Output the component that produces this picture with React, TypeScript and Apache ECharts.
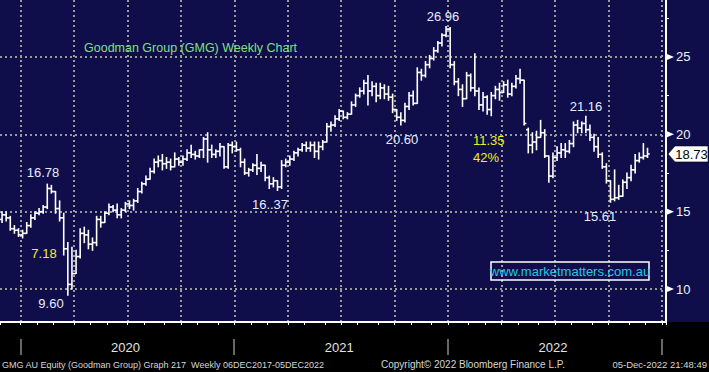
import React, { useEffect, useRef } from 'react';
import * as echarts from 'echarts';

// Weekly OHLC for Goodman Group (GMG), first week 2019-12-02, last week 2022-12-05
const START_DATE = '2019-12-02';
const FUTURE_WEEKS = 4;

const opens = [
  14.5, 14.8, 14.6, 13.9, 13.8, 13.5, 13.6, 14.1, 14.6, 14.9,
  15.0, 15.3, 16.5, 16.3, 15.2, 14.6, 12.6, 10.3, 11.0, 12.1,
  13.6, 13.5, 12.9, 13.0, 14.5, 14.3, 14.9, 15.3, 15.1, 14.8,
  15.1, 15.5, 15.4, 15.7, 16.3, 16.8, 17.1, 17.6, 18.2, 18.3,
  18.1, 18.2, 17.9, 18.4, 18.2, 18.4, 18.8, 18.7, 18.6, 19.0,
  19.7, 19.0, 18.7, 18.9, 19.2, 17.9, 19.3, 19.2, 19.0, 18.2,
  17.5, 17.7, 18.0, 17.8, 18.0, 17.2, 16.8, 17.0, 16.6, 18.0,
  18.2, 18.4, 18.8, 19.0, 19.3, 19.1, 19.3, 18.9, 19.2, 19.5,
  20.5, 20.6, 21.0, 21.5, 21.1, 21.3, 21.9, 22.5, 22.8, 23.3,
  22.8, 23.1, 22.5, 23.0, 22.6, 22.4, 21.6, 21.1, 20.9, 21.8,
  22.5, 22.0, 24.0, 23.8, 24.5, 24.9, 25.4, 25.9, 26.4, 26.8,
  24.5, 23.4, 22.9, 22.3, 23.8, 23.0, 22.8, 21.9, 22.4, 21.6,
  22.5, 22.9, 22.7, 23.2, 22.6, 23.1, 23.6, 23.5, 20.3, 19.3,
  19.5, 19.8, 20.1, 18.6, 17.3, 18.5, 18.8, 19.0, 18.9, 19.4,
  20.6, 20.4, 20.7, 20.3, 19.8, 19.2, 18.7, 17.9, 17.0, 15.8,
  15.9, 16.0, 16.9, 17.2, 17.7, 18.3, 18.5, 18.6,
];
const highs = [
  15.0, 15.0, 14.7, 14.1, 13.9, 13.8, 14.3, 14.8, 15.0, 15.2,
  15.4, 16.78, 16.7, 16.3, 15.7, 14.9, 13.0, 12.7, 12.5, 13.9,
  14.0, 13.8, 13.3, 14.7, 14.7, 15.0, 15.5, 15.4, 15.5, 15.2,
  15.6, 15.7, 15.8, 16.5, 16.9, 17.3, 17.8, 18.4, 18.6, 18.7,
  18.5, 18.4, 18.8, 18.5, 18.6, 19.0, 19.3, 18.9, 19.0, 19.8,
  20.1, 19.3, 19.0, 19.4, 19.2, 19.4, 19.5, 19.5, 19.1, 18.4,
  17.8, 18.1, 18.7, 18.2, 18.0, 17.3, 17.2, 17.0, 18.3, 18.4,
  18.6, 18.9, 19.1, 19.4, 19.5, 19.5, 19.5, 19.5, 19.6, 20.7,
  20.8, 21.2, 21.6, 21.5, 21.4, 22.1, 22.6, 23.0, 23.5, 23.8,
  23.4, 23.3, 23.3, 23.2, 23.1, 22.6, 21.6, 21.4, 22.0, 22.7,
  22.8, 24.3, 24.2, 24.7, 25.1, 25.6, 26.0, 26.5, 26.96, 26.9,
  24.7, 23.6, 23.2, 24.0, 23.9, 25.2, 23.0, 22.7, 22.5, 22.7,
  23.1, 23.3, 23.4, 23.5, 23.3, 23.8, 24.2, 23.5, 20.4, 20.1,
  20.2, 20.9, 20.3, 18.6, 18.8, 19.2, 19.4, 19.4, 19.6, 20.8,
  20.9, 20.8, 21.16, 20.6, 20.0, 19.8, 18.8, 18.1, 17.0, 17.7,
  16.7, 17.05, 17.5, 18.0, 18.7, 18.8, 19.4, 19.1,
];
const lows = [
  14.3, 14.4, 13.8, 13.6, 13.4, 13.3, 13.6, 14.0, 14.5, 14.8,
  14.9, 15.2, 16.2, 14.9, 14.4, 12.2, 9.6, 10.0, 11.0, 12.0,
  13.0, 12.6, 12.5, 12.8, 14.0, 14.3, 14.8, 15.0, 14.6, 14.6,
  15.0, 15.2, 15.1, 15.6, 16.2, 16.7, 17.1, 17.5, 17.9, 17.7,
  17.8, 17.7, 17.9, 18.0, 18.0, 18.3, 18.5, 18.4, 18.5, 18.5,
  18.2, 18.5, 18.5, 18.6, 17.8, 17.8, 18.8, 18.9, 17.9, 17.4,
  17.3, 17.6, 17.4, 17.6, 17.0, 16.5, 16.6, 16.37, 16.5, 17.9,
  18.0, 18.3, 18.6, 18.9, 18.9, 18.9, 18.5, 18.4, 19.0, 19.5,
  20.2, 20.5, 20.9, 21.0, 21.0, 21.3, 21.8, 22.4, 22.6, 21.9,
  22.5, 22.1, 22.3, 22.3, 22.2, 21.4, 20.9, 20.6, 20.8, 21.6,
  21.9, 22.0, 23.5, 23.7, 24.3, 24.8, 25.3, 25.7, 26.3, 24.3,
  23.2, 22.5, 21.8, 22.3, 22.8, 22.5, 21.6, 21.5, 21.3, 21.2,
  22.3, 22.2, 22.7, 22.4, 22.5, 23.0, 23.3, 20.6, 18.8, 18.8,
  19.0, 19.8, 18.5, 16.9, 17.2, 18.3, 18.5, 18.5, 18.8, 19.2,
  20.1, 20.1, 20.1, 19.6, 18.9, 18.5, 17.8, 16.85, 15.61, 15.7,
  15.8, 16.0, 16.5, 17.0, 17.5, 18.2, 18.4, 18.5,
];
const closes = [
  14.8, 14.6, 13.9, 13.8, 13.5, 13.6, 14.1, 14.6, 14.9, 15.0,
  15.3, 16.5, 16.3, 15.2, 14.6, 12.6, 10.3, 11.0, 12.1, 13.6,
  13.5, 12.9, 13.0, 14.5, 14.3, 14.9, 15.3, 15.1, 14.8, 15.1,
  15.5, 15.4, 15.7, 16.3, 16.8, 17.1, 17.6, 18.2, 18.3, 18.1,
  18.2, 17.9, 18.4, 18.2, 18.4, 18.8, 18.7, 18.6, 19.0, 19.7,
  19.0, 18.7, 18.9, 19.2, 17.9, 19.3, 19.2, 19.0, 18.2, 17.5,
  17.7, 18.0, 17.8, 18.0, 17.2, 16.8, 17.0, 16.6, 18.0, 18.2,
  18.4, 18.8, 19.0, 19.3, 19.1, 19.3, 18.9, 19.2, 19.5, 20.5,
  20.6, 21.0, 21.5, 21.1, 21.3, 21.9, 22.5, 22.8, 23.3, 22.8,
  23.1, 22.5, 23.0, 22.6, 22.4, 21.6, 21.1, 20.9, 21.8, 22.5,
  22.0, 24.0, 23.8, 24.5, 24.9, 25.4, 25.9, 26.4, 26.8, 24.5,
  23.4, 22.9, 22.3, 23.8, 23.0, 22.8, 21.9, 22.4, 21.6, 22.5,
  22.9, 22.7, 23.2, 22.6, 23.1, 23.6, 23.5, 20.7, 19.3, 19.5,
  19.8, 20.1, 18.6, 17.3, 18.5, 18.8, 19.0, 18.9, 19.4, 20.6,
  20.4, 20.7, 20.3, 19.8, 19.2, 18.7, 17.9, 17.0, 15.8, 15.9,
  16.0, 16.9, 17.2, 17.7, 18.3, 18.5, 18.6, 18.73,
];

const LAST_PRICE = 18.73;
const Y_MIN = 7.87;
const Y_MAX = 28.68;
const Y_LABEL_VALUES = [10, 15, 20, 25];
const Y_TICK_VALUES = [10, 12.5, 15, 17.5, 20, 22.5, 25, 27.5];

const NAVY = '#100e4a';
const LIGHT = '#e4ecff';
const YELLOW = '#eeee22';
const GRID_LINE = '#9a9a9a';
const FONT = '"Liberation Sans", Arial, sans-serif';

const annotations = [
  { text: '16.78', x: 43, y: 172, color: LIGHT, align: 'center' },
  { text: '7.18', x: 44, y: 253, color: YELLOW, align: 'center' },
  { text: '9.60', x: 51, y: 303, color: LIGHT, align: 'center' },
  { text: '16..37', x: 270, y: 204, color: LIGHT, align: 'center' },
  { text: '20.60', x: 402, y: 139, color: LIGHT, align: 'center' },
  { text: '26.96', x: 443, y: 16, color: LIGHT, align: 'center' },
  { text: '11.35', x: 473, y: 140, color: YELLOW, align: 'left' },
  { text: '42%', x: 473, y: 157, color: YELLOW, align: 'left' },
  { text: '21.16', x: 586, y: 106, color: LIGHT, align: 'center' },
  { text: '15.61', x: 600, y: 216, color: LIGHT, align: 'center' },
];

export default function App() {
  const ref = useRef<HTMLDivElement>(null);

  useEffect(() => {
    const el = ref.current;
    if (!el) return;
    const chart = echarts.init(el, undefined, { renderer: 'svg' });

    const DAY = 86400000;
    const [sy, sm, sd] = START_DATE.split('-').map(Number);
    const start = Date.UTC(sy, sm - 1, sd);
    const total = closes.length + FUTURE_WEEKS;
    const weeks: Date[] = [];
    for (let i = 0; i < total; i++) weeks.push(new Date(start + i * 7 * DAY));
    const cats = weeks.map((d) => d.toISOString().slice(0, 10));

    const isMonthStart = (i: number) => !!weeks[i] && weeks[i].getUTCDate() <= 7;
    const isQuarterStart = (i: number) => isMonthStart(i) && weeks[i].getUTCMonth() % 3 === 0;
    const isYearStart = (i: number) => isMonthStart(i) && weeks[i].getUTCMonth() === 0;
    const isMidYear = (i: number) => {
      const d = weeks[i];
      if (!d) return false;
      const jul1 = Date.UTC(d.getUTCFullYear(), 6, 1);
      return jul1 >= d.getTime() && jul1 < d.getTime() + 7 * DAY;
    };

    const ohlc = closes.map((c, i) => [i, opens[i], c, lows[i], highs[i]]);

    const dotted = { color: GRID_LINE, type: [2, 3] as any, width: 2 };

    chart.setOption({
      animation: false,
      backgroundColor: '#000',
      grid: {
        left: 0,
        right: 43,
        top: 0,
        bottom: 50,
        show: true,
        backgroundColor: NAVY,
        borderWidth: 0,
      },
      xAxis: [
        {
          type: 'category',
          data: cats,
          position: 'bottom',
          boundaryGap: true,
          axisLine: { show: true, lineStyle: { color: '#fff', width: 2 } },
          axisTick: {
            show: true,
            interval: (i: number) => isMonthStart(i),
            length: 3,
            lineStyle: { color: '#fff', width: 1 },
          },
          axisLabel: { show: false },
          splitLine: {
            show: true,
            interval: (i: number) => isQuarterStart(i),
            lineStyle: dotted,
          },
        },
        {
          type: 'category',
          data: cats,
          position: 'bottom',
          offset: 19,
          boundaryGap: true,
          axisLine: { show: false },
          axisTick: { show: false },
          axisLabel: {
            show: true,
            interval: (i: number) => isMidYear(i),
            formatter: (v: string) => v.slice(0, 4),
            color: '#e2e2e2',
            fontSize: 13,
            fontFamily: FONT,
            margin: 0,
            verticalAlign: 'top',
          },
          splitLine: { show: false },
        },
      ],
      yAxis: [
        {
          type: 'value',
          position: 'right',
          min: Y_MIN,
          max: Y_MAX,
          splitNumber: 4,
          axisLine: { show: true, lineStyle: { color: '#fff', width: 2 } },
          axisTick: { show: false },
          axisLabel: {
            show: true,
            customValues: Y_LABEL_VALUES,
            color: '#f2f2f2',
            fontSize: 13,
            fontFamily: FONT,
            margin: 10,
          },
          splitLine: { show: true, showMinLine: false, showMaxLine: false, lineStyle: dotted },
        },
        {
          type: 'value',
          position: 'right',
          min: Y_MIN,
          max: Y_MAX,
          axisLine: { show: false },
          axisTick: {
            show: true,
            customValues: Y_TICK_VALUES,
            length: 3,
            lineStyle: { color: '#fff', width: 1 },
          },
          axisLabel: { show: false },
          splitLine: { show: false },
        },
      ],
      series: [
        {
          type: 'custom',
          xAxisIndex: 0,
          yAxisIndex: 0,
          data: ohlc,
          encode: { x: 0, y: [1, 2, 3, 4] },
          renderItem: (_params: any, api: any) => {
            const idx = api.value(0);
            const pO = api.coord([idx, api.value(1)]);
            const x = pO[0];
            const yo = pO[1];
            const yc = api.coord([idx, api.value(2)])[1];
            const yl = api.coord([idx, api.value(3)])[1];
            const yh = api.coord([idx, api.value(4)])[1];
            const style = { stroke: '#ffffff', lineWidth: 1.6 };
            return {
              type: 'group',
              children: [
                { type: 'line', shape: { x1: x, y1: yh - 0.5, x2: x, y2: yl + 0.5 }, style },
                { type: 'line', shape: { x1: x - 2.2, y1: yo, x2: x, y2: yo }, style },
                { type: 'line', shape: { x1: x, y1: yc, x2: x + 2.2, y2: yc }, style },
              ],
            };
          },
        },
      ],
    });

    const toY = (v: number) => chart.convertToPixel({ yAxisIndex: 0 }, v) as number;
    const toX = (i: number) => chart.convertToPixel({ xAxisIndex: 0 }, i) as number;
    const band = toX(1) - toX(0);
    const py = toY(LAST_PRICE);

    const txt = (text: string, x: number, y: number, fill: string, size: number, align: string) => ({
      type: 'text',
      silent: true,
      x,
      y,
      style: {
        text,
        fill,
        font: `${size}px ${FONT}`,
        textAlign: align,
        textVerticalAlign: 'middle',
      },
    });

    const yearSeparators = weeks
      .map((_, i) => i)
      .filter((i) => isYearStart(i))
      .map((i) => {
        const x = Math.round(toX(i) - band / 2);
        return {
          type: 'line',
          silent: true,
          shape: { x1: x, y1: 339, x2: x, y2: 355 },
          style: { stroke: '#8a8a8a', lineWidth: 1.5 },
        };
      });

    const graphics: any[] = [
      {
        type: 'rect',
        z: -1,
        silent: true,
        shape: { x: 667, y: 0, width: 42, height: 322 },
        style: { fill: NAVY },
      },
      ...yearSeparators,
      ...Y_LABEL_VALUES.map((v) => {
        const y = toY(v);
        return {
          type: 'polygon',
          silent: true,
          shape: { points: [[667, y - 3], [667, y + 3], [674, y]] },
          style: { fill: '#ffffff' },
        };
      }),
      {
        type: 'polygon',
        silent: true,
        shape: { points: [[668, py], [675, py - 8], [708, py - 8], [708, py + 8], [675, py + 8]] },
        style: { fill: '#ffffff', stroke: '#000', lineWidth: 0.6 },
      },
      txt(String(LAST_PRICE), 691.5, py + 0.5, '#000', 13, 'center'),
      txt('Goodman Group (GMG) Weekly Chart', 84, 48, '#7fe07f', 12.5, 'left'),
      ...annotations.map((a) => txt(a.text, a.x, a.y, a.color, 13, a.align)),
      {
        type: 'rect',
        silent: true,
        shape: { x: 491, y: 262, width: 158, height: 18 },
        style: { fill: 'none', stroke: '#ffffff', lineWidth: 1.5 },
      },
      txt('www.marketmatters.com.au', 570, 271.5, '#1fcbe0', 13, 'center'),
      txt('GMG AU Equity (Goodman Group) Graph 217  Weekly 06DEC2017-05DEC2022', 2, 364.5, '#d6d6d6', 9, 'left'),
      txt('Copyright\u00a9 2022 Bloomberg Finance L.P.', 381, 364.5, '#d6d6d6', 10, 'left'),
      txt('05-Dec-2022 21:48:49', 707, 364.5, '#d6d6d6', 9.5, 'right'),
    ];

    chart.setOption({ graphic: graphics });

    return () => {
      chart.dispose();
    };
  }, []);

  return (
    <div
      ref={ref}
      style={{ position: 'fixed', left: 0, top: 0, width: 709, height: 372 }}
    />
  );
}
